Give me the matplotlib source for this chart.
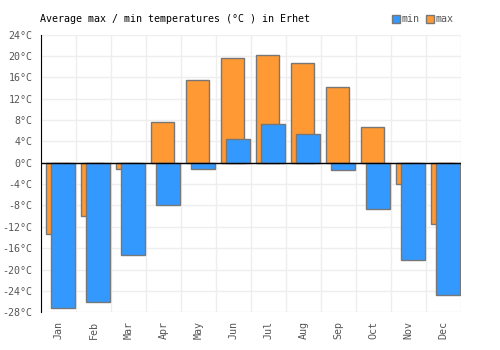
import matplotlib.pyplot as plt
from matplotlib.patches import Patch
import numpy as np

months = ['Jan', 'Feb', 'Mar', 'Apr', 'May', 'Jun', 'Jul', 'Aug', 'Sep', 'Oct', 'Nov', 'Dec']
t_max = [-13.3, -9.9, -1.1, 7.7, 15.5, 19.7, 20.2, 18.7, 14.2, 6.7, -3.9, -11.4]
t_min = [-27.3, -26.1, -17.2, -7.9, -1.1, 4.5, 7.3, 5.4, -1.3, -8.6, -18.3, -24.7]
yticks = list(range(-28, 25, 4))

blue = '#3399ff'
orange = '#ff9933'
edge = '#777777'

plt.rcParams['font.family'] = 'DejaVu Sans Mono'

fig = plt.figure(figsize=(5, 3.5), dpi=100)
ax = fig.add_axes([0.082, 0.108, 0.84, 0.793])

x = np.arange(len(months))
# max bars sit a little left, min bars a little right and on top
ax.bar(x - 0.5 + 0.143, t_max, width=0.657, align='edge', color=orange,
       edgecolor=edge, linewidth=1, zorder=2)
ax.bar(x - 0.5 + 0.286, t_min, width=0.685, align='edge', color=blue,
       edgecolor=edge, linewidth=1, zorder=3)

ax.set_xlim(-0.5, 11.5)
ax.set_ylim(-28, 24)
ax.set_yticks(yticks)
ax.set_yticklabels([f'{v}°C' for v in yticks], fontsize=7.2, color='#555555')
ax.set_xticks(x)
ax.set_xticklabels(months, rotation=90, fontsize=7.2, color='#555555')
ax.set_xticks(np.arange(-0.5, 12, 1), minor=True)
ax.tick_params(axis='both', which='both', length=0)
ax.tick_params(axis='y', pad=6)
ax.tick_params(axis='x', pad=6)

ax.grid(True, which='minor', axis='x', color='#eeeeee', linewidth=1, zorder=0)
ax.grid(True, which='major', axis='y', color='#eeeeee', linewidth=1, zorder=0)
ax.set_axisbelow(True)
for s in ['top', 'right', 'bottom']:
    ax.spines[s].set_visible(False)
ax.spines['left'].set_color('black')
ax.axhline(0, color='black', linewidth=1, zorder=4)

fig.text(0.08, 0.945, 'Average max / min temperatures (°C ) in Erhet',
         fontsize=7.2, color='black', va='center')

handles = [Patch(facecolor=blue, edgecolor=edge), Patch(facecolor=orange, edgecolor=edge)]
fig.legend(handles, ['min', 'max'], loc='center right', bbox_to_anchor=(0.925, 0.945),
           ncol=2, frameon=False, fontsize=7.2, handlelength=0.8, handleheight=0.8,
           handletextpad=0.2, columnspacing=0.6, labelcolor='#555555')

plt.savefig('out.png', dpi=100)
